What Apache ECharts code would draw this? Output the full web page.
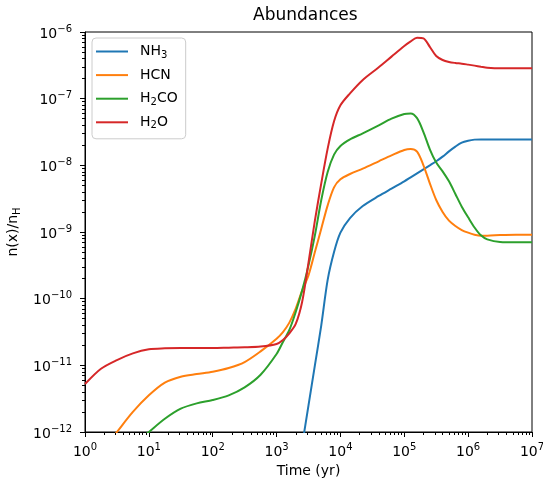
<!DOCTYPE html>
<html>
<head>
<meta charset="utf-8">
<title>Abundances</title>
<script src="https://cdn.jsdelivr.net/npm/echarts@6/dist/echarts.min.js"></script>
<style>
	html, body { margin: 0; padding: 0; background: #fff; }
	#chart { width: 543px; height: 483px; }
</style>
</head>
<body>
<div id="chart"></div>
<script>
// time grid (yr)
const times = [1, 1.78, 3.16, 5.62, 10, 17.8, 31.6, 56.2, 100, 178, 316, 562,
	1000, 1259, 1585, 1995, 2512, 3162, 3981, 5012, 6310, 7943,
	1e4, 14125, 22387, 39811, 63096,
	1e5, 125893, 158489, 199526, 251189, 316228, 398107, 501187, 630957, 794328,
	1e6, 1258925, 1584893, 1995262, 3162278, 5623413, 1e7];

const nh3 = [null, null, null, null, null, null, null, null, null, null, null, null,
	null, null, null, 1.58e-13, 6.31e-13, 2.51e-12, 1.0e-11, 3.98e-11, 1.91e-10, 5.01e-10,
	9.77e-10, 1.62e-9, 2.45e-9, 3.47e-9, 4.47e-9,
	5.75e-9, 6.61e-9, 7.59e-9, 8.71e-9, 1.0e-8, 1.15e-8, 1.35e-8, 1.62e-8, 1.91e-8, 2.19e-8,
	2.34e-8, 2.43e-8, 2.45e-8, 2.45e-8, 2.45e-8, 2.45e-8, 2.45e-8];

const hcn = [2.5e-13, 5.0e-13, 1.0e-12, 2.0e-12, 3.55e-12, 5.5e-12, 6.76e-12, 7.41e-12, 8.04e-12, 9.12e-12, 1.12e-11, 1.62e-11,
	2.51e-11, 3.16e-11, 4.37e-11, 7.08e-11, 1.32e-10, 2.24e-10, 5.0e-10, 1.12e-9, 2.51e-9, 4.68e-9,
	6.17e-9, 7.41e-9, 8.91e-9, 1.15e-8, 1.41e-8,
	1.7e-8, 1.76e-8, 1.6e-8, 1.0e-8, 5.37e-9, 3.02e-9, 2.0e-9, 1.48e-9, 1.23e-9, 1.07e-9,
	9.77e-10, 9.12e-10, 8.8e-10, 8.8e-10, 9.0e-10, 9.12e-10, 9.12e-10];

const h2co = [6.3e-14, 1.41e-13, 3.16e-13, 6.31e-13, 1.0e-12, 1.58e-12, 2.24e-12, 2.69e-12, 3.02e-12, 3.55e-12, 4.68e-12, 7.24e-12,
	1.48e-11, 2.24e-11, 3.39e-11, 6.31e-11, 1.32e-10, 3.16e-10, 8.91e-10, 3.02e-9, 7.94e-9, 1.45e-8,
	1.95e-8, 2.45e-8, 3.02e-8, 3.98e-8, 5.01e-8,
	5.89e-8, 6.0e-8, 5.1e-8, 3.16e-8, 1.74e-8, 1.1e-8, 8.13e-9, 5.75e-9, 3.72e-9, 2.4e-9,
	1.66e-9, 1.17e-9, 8.91e-10, 7.76e-10, 7.08e-10, 7.0e-10, 7.0e-10];

const h2o = [5.25e-12, 8.9e-12, 1.2e-11, 1.51e-11, 1.74e-11, 1.8e-11, 1.82e-11, 1.82e-11, 1.82e-11, 1.84e-11, 1.86e-11, 1.91e-11,
	2.09e-11, 2.4e-11, 3.02e-11, 4.17e-11, 8.9e-11, 3.47e-10, 1.48e-9, 5.37e-9, 1.78e-8, 4.57e-8,
	7.94e-8, 1.2e-7, 1.91e-7, 2.95e-7, 4.27e-7,
	6.17e-7, 7.24e-7, 8.2e-7, 8.0e-7, 6.0e-7, 4.37e-7, 3.8e-7, 3.55e-7, 3.43e-7, 3.35e-7,
	3.24e-7, 3.13e-7, 3.02e-7, 2.92e-7, 2.85e-7, 2.85e-7, 2.85e-7];

const seriesNames = ["NH3", "HCN", "H2CO", "H2O"];
const seriesColors = ["#1f77b4", "#ff7f0e", "#2ca02c", "#d62728"];
const seriesValues = [nh3, hcn, h2co, h2o];

const xMajor = [1, 10, 100, 1e3, 1e4, 1e5, 1e6, 1e7];
const yMajor = [1e-12, 1e-11, 1e-10, 1e-9, 1e-8, 1e-7, 1e-6];

function minorsOf(majors) {
	const out = [];
	for (let i = 0; i < majors.length - 1; i++) {
		for (let m = 2; m <= 9; m++) out.push(m * majors[i]);
	}
	return out;
}

const FONT = "DejaVu Sans";

function powLabel(v) {
	const e = Math.round(Math.log10(v));
	const s = e < 0 ? "\u2212" + (-e) : String(e);
	return "{b|10}{s|" + s + "}";
}

const powRich = {
	b: { fontFamily: FONT, fontSize: 14, color: "#000", lineHeight: 14, padding: [4, 0, 0, 0] },
	s: { fontFamily: FONT, fontSize: 10, color: "#000", lineHeight: 10, padding: [1, 0, 7, 0] }
};

const chart = echarts.init(document.getElementById("chart"));

chart.setOption({
	animation: false,
	title: {
		text: "Abundances",
		left: 253,
		top: 7,
		padding: 0,
		textStyle: { fontFamily: FONT, fontSize: 17, fontWeight: "normal", color: "#000" }
	},
	legend: {
		left: 92,
		top: 38,
		orient: "vertical",
		icon: "rect",
		itemWidth: 32,
		itemHeight: 2,
		itemGap: 6.6,
		padding: [5, 8, 8, 4],
		borderColor: "#cccccc",
		borderWidth: 1,
		borderRadius: 4,
		backgroundColor: "rgba(255,255,255,0.8)",
		data: seriesNames,
		formatter: function (name) {
			return name.replace(/(\d)/g, "{sub|$1}");
		},
		textStyle: {
			fontFamily: FONT,
			fontSize: 14,
			lineHeight: 17,
			color: "#000",
			padding: [0, 0, 0, 7],
			rich: {
				sub: { fontFamily: FONT, fontSize: 10, lineHeight: 10, padding: [7, 0, 0, 0], color: "#000" }
			}
		}
	},
	grid: {
		left: 85,
		right: 11,
		top: 32,
		bottom: 51,
		outerBoundsMode: "none",
		show: true,
		borderColor: "#000",
		borderWidth: 1,
		backgroundColor: "transparent"
	},
	xAxis: [
		{
			type: "log",
			logBase: 10,
			min: 1,
			max: 1e7,
			position: "bottom",
			name: "Time (yr)",
			nameLocation: "middle",
			nameGap: 30,
			nameTextStyle: { fontFamily: FONT, fontSize: 14, color: "#000" },
			axisLine: { show: true, lineStyle: { color: "#000", width: 1 } },
			axisTick: { show: true, length: 5, lineStyle: { color: "#000", width: 1 }, customValues: xMajor },
			axisLabel: { margin: 11, formatter: powLabel, rich: powRich, customValues: xMajor },
			splitLine: { show: false }
		},
		{
			type: "log",
			logBase: 10,
			min: 1,
			max: 1e7,
			position: "bottom",
			axisLine: { show: false },
			axisTick: { show: true, length: 3, lineStyle: { color: "#000", width: 1 }, customValues: minorsOf(xMajor) },
			axisLabel: { show: false },
			splitLine: { show: false }
		}
	],
	yAxis: [
		{
			type: "log",
			logBase: 10,
			min: 1e-12,
			max: 1e-6,
			position: "left",
			name: "n(x)/n{sub|H}",
			nameLocation: "middle",
			nameGap: 62,
			nameTextStyle: {
				fontFamily: FONT,
				fontSize: 14,
				lineHeight: 17,
				color: "#000",
				rich: {
					sub: { fontFamily: FONT, fontSize: 10, lineHeight: 10, padding: [7, 0, 0, 0], color: "#000" }
				}
			},
			axisLine: { show: true, lineStyle: { color: "#000", width: 1 } },
			axisTick: { show: true, length: 5, lineStyle: { color: "#000", width: 1 }, customValues: yMajor },
			axisLabel: { margin: 13, formatter: powLabel, rich: powRich, customValues: yMajor },
			splitLine: { show: false }
		},
		{
			type: "log",
			logBase: 10,
			min: 1e-12,
			max: 1e-6,
			position: "left",
			axisLine: { show: false },
			axisTick: { show: true, length: 3, lineStyle: { color: "#000", width: 1 }, customValues: minorsOf(yMajor) },
			axisLabel: { show: false },
			splitLine: { show: false }
		}
	],
	series: seriesNames.map(function (name, i) {
		return {
			name: name,
			type: "line",
			xAxisIndex: 0,
			yAxisIndex: 0,
			smooth: 0.3,
			showSymbol: false,
			symbol: "none",
			clip: true,
			color: seriesColors[i],
			lineStyle: { width: 2, color: seriesColors[i] },
			emphasis: { disabled: true },
			data: times.map(function (t, k) { return [t, seriesValues[i][k]]; })
				.filter(function (d) { return d[1] != null; })
		};
	})
});
</script>
</body>
</html>
